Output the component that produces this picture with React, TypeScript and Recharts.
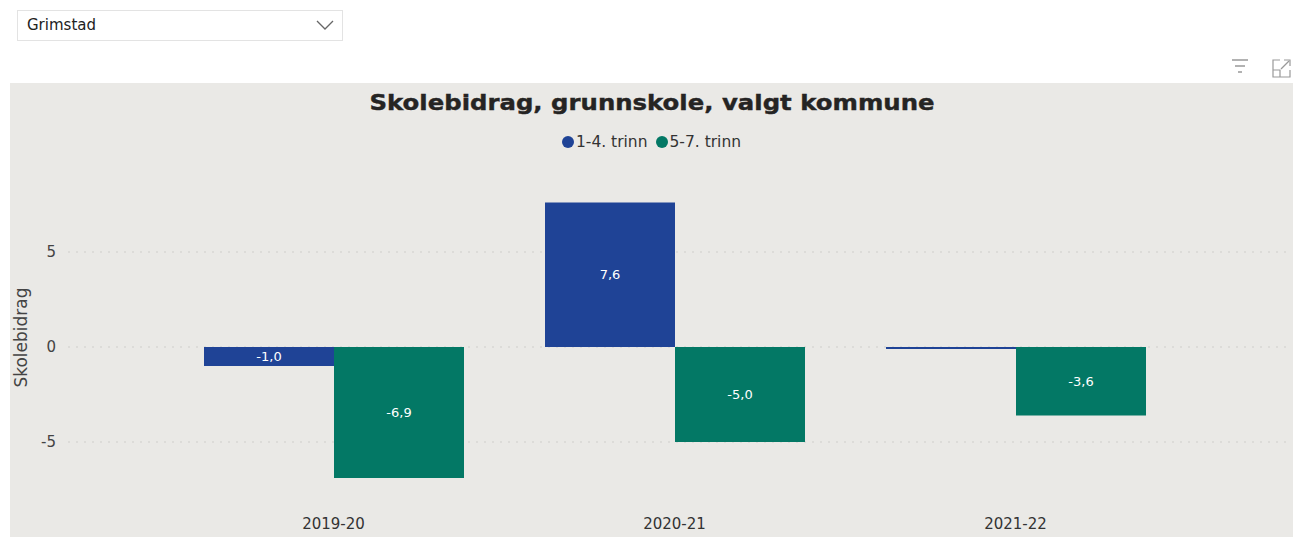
import React from "react";
import { BarChart, Bar, XAxis, YAxis, CartesianGrid, LabelList } from "recharts";

const categories = ["2019-20", "2020-21", "2021-22"];
const trinn14 = [-1.0, 7.6, -0.1];
const trinn57 = [-6.9, -5.0, -3.6];
const seriesNames = ["1-4. trinn", "5-7. trinn"];
const seriesColors = ["#1F4396", "#037865"];
const yTicks = [-5, 0, 5];

const data = categories.map((c, i) => ({ cat: c, a: trinn14[i], b: trinn57[i] }));

const FONT = "'DejaVu Sans', 'Liberation Sans', Arial, sans-serif";

const fmt = (v: any) => {
  const n = Number(v);
  if (Math.abs(n) < 0.5) return "";
  return n.toFixed(1).replace(".", ",");
};

const YLabel = (props: any) => {
  const vb = props.viewBox || {};
  const cx = 11;
  const cy = vb.y + vb.height / 2;
  return (
    <text x={cx} y={cy} transform={`rotate(-90 ${cx} ${cy})`} textAnchor="middle" dominantBaseline="central" fill="#444" fontSize={17} fontFamily={FONT}>
      Skolebidrag
    </text>
  );
};

export default function App() {
  return (
    <div style={{ position: "absolute", left: 0, top: 0, width: 1293, height: 537, background: "#fff", overflow: "hidden", fontFamily: FONT }}>
      {/* dropdown */}
      <div style={{ position: "absolute", left: 17, top: 10, width: 324, height: 29, border: "1px solid #e3e3e3", background: "#fff" }}>
        <span style={{ position: "absolute", left: 9, top: 5, fontSize: 15, color: "#222", fontFamily: FONT }}>Grimstad</span>
        <svg style={{ position: "absolute", left: 298, top: 9 }} width="20" height="12">
          <polyline points="1,1 9,9 17,1" fill="none" stroke="#666" strokeWidth="1.3" />
        </svg>
      </div>
      {/* icons */}
      <svg style={{ position: "absolute", left: 1228, top: 56 }} width="65" height="26">
        <line x1="4" y1="4" x2="20" y2="4" stroke="#888" strokeWidth="1.3" />
        <line x1="7" y1="10" x2="17" y2="10" stroke="#888" strokeWidth="1.3" />
        <line x1="10" y1="16" x2="14" y2="16" stroke="#888" strokeWidth="1.3" />
        <polyline points="52,4 45,4 45,21 62,21 62,14" fill="none" stroke="#999" strokeWidth="1.2" />
        <polyline points="56,4 62,4 62,10" fill="none" stroke="#999" strokeWidth="1.2" />
        <line x1="53" y1="13" x2="61" y2="5" stroke="#999" strokeWidth="1.2" />
        <polyline points="45,14 52,14 52,21" fill="none" stroke="#999" strokeWidth="1.2" />
      </svg>
      {/* panel */}
      <div style={{ position: "absolute", left: 10, top: 83, width: 1283, height: 454, background: "#EAE9E6" }}>
        <svg style={{ position: "absolute", left: 0, top: 0 }} width="1283" height="40">
          <text x={642} y={27} textAnchor="middle" fontFamily={FONT} fontWeight="bold" fontSize={22} fill="#252423" stroke="#252423" strokeWidth={0.4} textLength={565} lengthAdjust="spacingAndGlyphs">
            Skolebidrag, grunnskole, valgt kommune
          </text>
        </svg>
        <div style={{ position: "absolute", top: 50, left: 0, width: 1283, display: "flex", justifyContent: "center", alignItems: "center", gap: 8 }}>
          {seriesNames.map((n, i) => (
            <div key={n} style={{ display: "flex", alignItems: "center", gap: 2 }}>
              <span style={{ display: "inline-block", width: 12, height: 12, borderRadius: 6, background: seriesColors[i] }} />
              <span style={{ fontSize: 15.5, color: "#333", fontFamily: FONT }}>{n}</span>
            </div>
          ))}
        </div>
        <BarChart width={1283} height={454} data={data} margin={{ top: 93, right: 3, left: 0, bottom: 0 }} barCategoryGap={41} barGap={0}>
          <CartesianGrid vertical={false} stroke="#cfcecb" strokeDasharray="2 6" horizontalValues={yTicks} />
          <XAxis dataKey="cat" axisLine={false} tickLine={false} tickSize={0} tickMargin={19} height={38} padding={{ left: 95, right: 104 }} tick={{ fill: "#333", fontSize: 15, fontFamily: FONT }} />
          <YAxis domain={[-8, 9]} ticks={yTicks} width={58} axisLine={false} tickLine={false} tickSize={0} tickMargin={12} tick={{ fill: "#444", fontSize: 15, fontFamily: FONT }} label={<YLabel />} />
          <Bar dataKey="a" name={seriesNames[0]} fill={seriesColors[0]} isAnimationActive={false}>
            <LabelList dataKey="a" position="center" formatter={fmt} fill="#fff" fontSize={13} fontFamily={FONT} />
          </Bar>
          <Bar dataKey="b" name={seriesNames[1]} fill={seriesColors[1]} isAnimationActive={false}>
            <LabelList dataKey="b" position="center" formatter={fmt} fill="#fff" fontSize={13} fontFamily={FONT} />
          </Bar>
        </BarChart>
      </div>
    </div>
  );
}
